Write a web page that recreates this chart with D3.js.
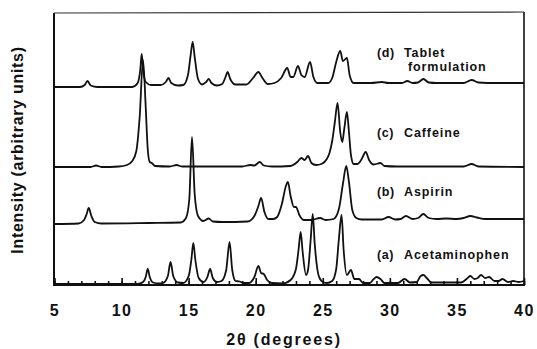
<!DOCTYPE html>
<html>
<head>
<meta charset="utf-8">
<script src="https://cdn.jsdelivr.net/npm/d3@7"></script>
<style>
  body { margin: 0; background: #fff; }
  text { font-family: Arial, "Liberation Sans", Helvetica, sans-serif; font-weight: bold; fill: #111; }
</style>
</head>
<body>
<div id="mainDiv"></div>
<script>
'use strict';

// x-ray powder patterns, [2theta, intensity above trace baseline]
var acetaminophen = [[5,0],[11.2,0],[11.6,2],[11.8,7],[11.95,15],[12.1,7],[12.35,1.5],[12.8,0.5],
  [13.1,1],[13.45,8],[13.65,22],[13.85,8],[14.2,1.5],
  [14.6,1],[15.0,8],[15.2,24],[15.35,41],[15.5,24],[15.75,6],[16.1,2],[16.4,7],[16.6,15],[16.8,6],[17.1,2],
  [17.45,3],[17.8,14],[18.05,42],[18.25,14],[18.5,3],[18.8,2.5],[19.1,1],
  [19.5,1],[19.9,7],[20.2,18],[20.4,11],[20.6,10],[20.85,4],[21.2,1],
  [22.0,0.5],[22.6,4],[23.0,15],[23.2,35],[23.35,52],[23.5,32],[23.75,9],[23.9,14],[24.1,45],[24.25,70],[24.4,40],[24.7,8],[25.0,2],[25.3,1],
  [25.7,3],[26.0,15],[26.2,45],[26.4,69],[26.55,35],[26.8,9],[27.1,14],[27.35,5],[27.7,5],[28.0,1],
  [28.5,1],[28.8,5],[29.0,7],[29.3,5],[29.6,1],
  [30.6,1],[31.1,5],[31.5,1.5],[32.0,2],[32.3,8],[32.5,9],[32.75,6],[33.1,1.5],
  [35.3,1.5],[35.8,6],[36.0,8],[36.3,5],[36.55,6],[36.8,9],[37.1,6],[37.4,7],[37.8,3],[38.1,3],[38.4,5],[38.8,2],[39.2,3],[39.6,2],[40,3]];

var aspirin = [[5,0],[6.8,0.5],[7.2,4],[7.4,10],[7.55,16],[7.75,8],[8.0,2],[8.5,0.5],[12,1],
  [14.4,1.5],[14.8,6],[15.05,25],[15.25,87],[15.45,30],[15.7,8],[16.1,3],[16.5,5.5],[16.8,2.5],[17.5,2],
  [19.4,2.5],[19.9,8],[20.2,18],[20.4,26],[20.65,12],[20.95,5],[21.3,5],[21.6,7],[21.95,20],[22.25,38],[22.4,42],[22.6,28],[22.85,17],[23.0,17],[23.25,9],[23.6,4],[24.1,4],[24.8,6],[25.2,4],
  [25.8,5],[26.2,15],[26.5,40],[26.75,58],[26.95,42],[27.2,14],[27.5,6],[27.9,4.5],
  [29.4,4.5],[29.9,7],[30.4,4.5],[30.8,5],[31.2,8],[31.7,5],[32.1,6],[32.5,10],[32.9,6],[33.5,5],[34.2,5.5],[35.0,5],[35.5,6],[36.0,8],[36.5,6.5],[37.1,5],[40,5]];

var caffeine = [[5,0],[7.7,0],[8.1,1.5],[8.5,0],[9.8,0.5],[10.4,2],[10.8,6],[11.1,16],[11.35,50],[11.6,107],[11.8,60],[11.95,18],[12.1,5],[12.25,4],[12.5,1],
  [13.6,0.5],[14.1,2],[14.5,0.5],[19.0,0.5],[19.6,2],[19.9,1.5],[20.3,5],[20.6,1.5],[21.2,0.5],
  [22.6,1],[23.1,5],[23.4,9],[23.65,7],[23.9,11],[24.15,4],[24.5,2],[24.9,3],[25.3,8],[25.5,14],[25.7,26],[25.9,45],[26.1,64],[26.3,35],[26.45,25],[26.6,38],[26.8,55],[26.95,35],[27.1,12],[27.3,3],[27.6,3],[27.9,8],[28.2,15],[28.45,7],[28.8,2.5],[29.3,4],[29.6,1],
  [30.5,0.5],[35.5,0.5],[36.1,3],[36.6,0.5],[40,0]];

var tablet = [[5,0],[6.9,0],[7.25,2],[7.46,6],[7.7,1.5],[8.2,0],[10.8,0],[11.2,4],[11.4,18],[11.5,33],[11.6,18],[11.8,5],[12.2,2],
  [12.9,2],[13.3,5],[13.5,9],[13.7,4],[14.2,1.5],
  [14.6,2],[14.95,12],[15.15,32],[15.3,45],[15.45,30],[15.7,8],[16.0,2.5],[16.3,5],[16.5,8],[16.7,4],[17.1,1.5],
  [17.5,3],[17.75,10],[17.9,15],[18.1,8],[18.5,2.5],
  [19.3,2.5],[19.8,9],[20.2,15],[20.5,9],[20.9,3],[21.4,4],[21.9,9],[22.35,19],[22.6,10],[22.8,10],[23.15,21],[23.4,12],[23.65,10],[24.05,25],[24.3,10],[24.6,4],[25.4,4],
  [25.7,9],[26.0,25],[26.3,36],[26.5,26],[26.8,29],[27.0,12],[27.3,4],[27.8,4],
  [28.6,4],[29.4,5],[29.9,4],[30.9,4],[31.3,6],[31.7,4],[32.1,4.5],[32.5,8],[32.9,4.5],[33.5,4],[35.5,4],[36.1,7],[36.6,4.5],[38.0,4],[40,4]];

var traceNames = ['(a)', '(b)', '(c)', '(d)'];
var traceTitles = [['Acetaminophen'], ['Aspirin'], ['Caffeine'], ['Tablet', 'formulation']];
var traceOffsets = [1, 61, 118, 198];   // stacking offset, arbitrary units
var majorTicks = [5, 10, 15, 20, 25, 30, 35, 40];
var minorTicks = d3.range(5, 41, 1);
var xTitle = '2\u03b8 (degrees)';
var yTitle = 'Intensity (arbitrary units)';

var W = 537, H = 349;
var plot = { left: 54, right: 524, top: 13, bottom: 285 };

var xScale = d3.scaleLinear().domain([5, 40]).range([plot.left + 0.5, plot.right]);
var yScale = d3.scaleLinear().domain([0, 272]).range([plot.bottom, plot.top]);

var svg = d3.select('#mainDiv').append('svg')
    .attr('width', W)
    .attr('height', H);

svg.append('rect').attr('width', W).attr('height', H).attr('fill', '#fff');

// frame
svg.append('line').attr('x1', plot.left).attr('x2', plot.left).attr('y1', plot.top).attr('y2', plot.bottom)
    .attr('stroke', '#111').attr('stroke-width', 2);
svg.append('line').attr('x1', plot.right).attr('x2', plot.right).attr('y1', plot.top - 1).attr('y2', plot.bottom)
    .attr('stroke', '#111').attr('stroke-width', 1.6);
svg.append('line').attr('x1', plot.left).attr('x2', plot.right).attr('y1', plot.top).attr('y2', plot.top - 1)
    .attr('stroke', '#333').attr('stroke-width', 1.2);

// axes: minor ticks every degree, major every 5
var minorAxis = d3.axisBottom(xScale).tickValues(minorTicks).tickSize(-4).tickSizeOuter(0).tickFormat('');
var majorAxis = d3.axisBottom(xScale).tickValues(majorTicks).tickSize(-7).tickSizeOuter(0).tickPadding(20).tickFormat(d3.format('d'));

var gMinor = svg.append('g').attr('transform', 'translate(0,' + plot.bottom + ')').call(minorAxis);
var gMajor = svg.append('g').attr('transform', 'translate(0,' + plot.bottom + ')').call(majorAxis);

svg.selectAll('.domain').remove();
svg.append('line').attr('x1', plot.left - 1).attr('x2', plot.right + 1).attr('y1', plot.bottom).attr('y2', plot.bottom)
    .attr('stroke', '#111').attr('stroke-width', 2);
svg.selectAll('.tick line').attr('stroke', '#111').attr('stroke-width', 1.6);
gMajor.selectAll('.tick text')
    .attr('font-size', 16)
    .attr('letter-spacing', 1.5)
    .attr('font-family', 'Arial, "Liberation Sans", sans-serif')
    .attr('font-weight', 'bold')
    .attr('fill', '#111');

// traces
var line = d3.line()
    .x(function (d) { return xScale(d[0]); })
    .y(function (d) { return d[1]; })
    .curve(d3.curveMonotoneX);

var traces = [acetaminophen, aspirin, caffeine, tablet];
traces.forEach(function (data, i) {
    var pts = data.map(function (d) { return [d[0], yScale(d[1] + traceOffsets[i])]; });
    svg.append('path')
        .attr('d', line(pts))
        .attr('fill', 'none')
        .attr('stroke', '#111')
        .attr('stroke-width', 1.8)
        .attr('stroke-linejoin', 'round');
});

// trace labels
var labelY = [[259], [196], [137], [57, 71]];
traceNames.forEach(function (name, i) {
    svg.append('text')
        .attr('x', 377).attr('y', labelY[i][0])
        .attr('font-size', 12.5).attr('letter-spacing', 0.6)
        .text(name);
    traceTitles[i].forEach(function (t, j) {
        svg.append('text')
            .attr('x', j === 0 ? 404 : 408).attr('y', labelY[i][j])
            .attr('font-size', 12.5).attr('letter-spacing', 0.9)
            .text(t);
    });
});

// axis titles
svg.append('text')
    .attr('x', 284).attr('y', 345)
    .attr('text-anchor', 'middle')
    .attr('font-size', 16).attr('letter-spacing', 1.8)
    .text(xTitle);

svg.append('text')
    .attr('transform', 'translate(23,150) rotate(-90)')
    .attr('text-anchor', 'middle')
    .attr('font-size', 16).attr('letter-spacing', 0.7)
    .text(yTitle);
</script>
</body>
</html>
